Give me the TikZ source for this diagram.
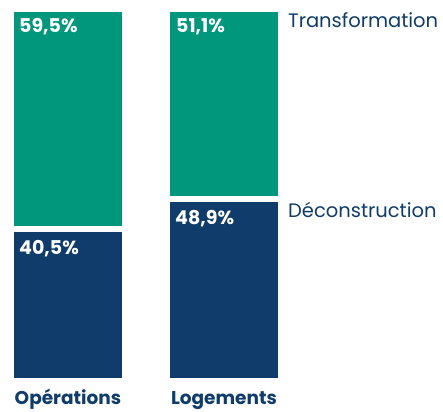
\documentclass[tikz,border=0pt]{standalone}
\usepackage{fontspec}
\setmainfont{Poppins}
\definecolor{vert}{HTML}{00977C}
\definecolor{bleu}{HTML}{0F3C6A}

\begin{document}
\begin{tikzpicture}[x=1pt,y=-1pt,
	pct/.style={text=white, font=\fontsize{19}{19}\selectfont\bfseries, inner sep=0pt, anchor=base west},
	leg/.style={text=bleu, font=\fontsize{19.5}{19.5}\selectfont, inner sep=0pt, anchor=base west},
	cat/.style={text=bleu, font=\fontsize{18.5}{18.5}\selectfont\bfseries, inner sep=0pt, anchor=base}]
	\useasboundingbox (0,0) rectangle (443,411);
	\fill[vert] (14,12) rectangle (122,226);
	\fill[bleu] (14,232) rectangle (122,378);
	\fill[vert] (170,12) rectangle (278,196);
	\fill[bleu] (170,202) rectangle (278,378);
	\node[pct] (opTrans) at (19,33) {59,5\%};
	\node[pct] (opDecon) at (19,254) {40,5\%};
	\node[pct] (logTrans) at (176,33) {51,1\%};
	\node[pct] (logDecon) at (175,224) {48,9\%};
	\node[leg] (legTrans) at (288,28) {Transformation};
	\node[leg] (legDecon) at (288,217) {Déconstruction};
	\node[cat] (operations) at (68,404) {Opérations};
	\node[cat] (logements) at (224,404) {Logements};
\end{tikzpicture}
\end{document}
